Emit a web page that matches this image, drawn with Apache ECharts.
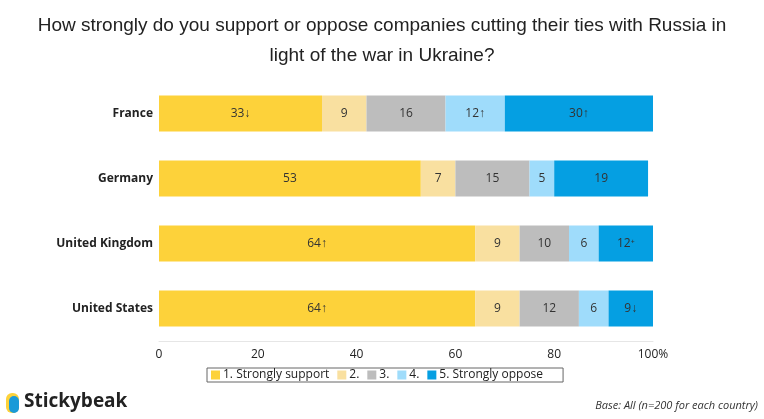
<!DOCTYPE html>
<html>
<head>
<meta charset="utf-8">
<script src="https://cdn.jsdelivr.net/npm/echarts@6/dist/echarts.min.js"></script>
<style>html,body{margin:0;padding:0;background:#fff}#main{width:764px;height:419px}</style>
</head>
<body>
<div id="main"></div>
<script>
// categories, top to bottom
var countries = ['France', 'Germany', 'United Kingdom', 'United States'];
var seriesNames = ['1. Strongly support', '2.', '3.', '4.', '5. Strongly oppose'];
var colors = ['#fdd23a', '#f9e0a0', '#bdbdbd', '#9fdcfb', '#059fe2'];
// values per answer, one per country
var support1 = [33, 53, 64, 64];
var support2 = [9, 7, 9, 9];
var neutral3 = [16, 15, 10, 12];
var oppose4 = [12, 5, 6, 6];
var oppose5 = [30, 19, 12, 9];
// label text (with significance marks)
var labels1 = ['33↓', '53', '64↑', '64↑'];
var labels2 = ['9', '7', '9', '9'];
var labels3 = ['16', '15', '10', '12'];
var labels4 = ['12↑', '5', '6', '6'];
var labels5 = ['30↑', '19', '12⁺', '9↓'];

var values = [support1, support2, neutral3, oppose4, oppose5];
var labelSets = [labels1, labels2, labels3, labels4, labels5];

var myChart = echarts.init(document.getElementById('main'));
var series = seriesNames.map(function (name, i) {
    return {
        name: name,
        type: 'bar',
        stack: 'total',
        barWidth: 36,
        itemStyle: { color: colors[i] },
        label: {
            show: true,
            color: '#333',
            fontSize: 12,
            fontFamily: 'Open Sans',
            formatter: function (p) { return labelSets[i][p.dataIndex]; }
        },
        data: values[i]
    };
});

var option = {
    animation: false,
    title: {
        text: 'How strongly do you support or oppose companies cutting their ties with Russia in\nlight of the war in Ukraine?',
        left: 'center',
        top: 6,
        textStyle: { fontFamily: 'Liberation Sans', fontWeight: 'normal', fontSize: 19, color: '#222', lineHeight: 30, align: 'center' }
    },
    legend: {
        data: seriesNames,
        bottom: 37,
        left: 207,
        itemWidth: 9,
        itemHeight: 9,
        itemGap: 8,
        padding: [1, 20, 1, 4],
        borderColor: '#666',
        borderWidth: 1,
        icon: 'rect',
        textStyle: { fontFamily: 'Open Sans', fontSize: 12, color: '#222', padding: [0, 0, 0, -2] }
    },
    grid: { left: 159, right: 111, top: 81, height: 260 },
    xAxis: {
        type: 'value',
        min: 0,
        max: 100,
        interval: 20,
        splitLine: { show: false },
        axisLine: { show: true, lineStyle: { color: '#e6e6e6' } },
        axisTick: { show: false },
        axisLabel: {
            fontFamily: 'Open Sans', fontSize: 12, color: '#222', margin: 8,
            formatter: function (v) { return v === 100 ? '100%' : String(v); }
        }
    },
    yAxis: {
        type: 'category',
        data: countries,
        inverse: true,
        axisLine: { show: false },
        axisTick: { show: false },
        axisLabel: { fontFamily: 'Open Sans', fontWeight: 'bold', fontSize: 12, color: '#222', margin: 6 }
    },
    series: series,
    graphic: [
        { type: 'rect', shape: { x: 6, y: 393, width: 13, height: 20, r: 6 }, style: { fill: '#fdd23a' } },
        { type: 'rect', shape: { x: 9, y: 396, width: 10, height: 17, r: 5 }, style: { fill: '#1a9ad8' } },
        { type: 'text', left: 24, top: 392, style: { text: 'Stickybeak', font: 'bold 19px "Open Sans"', fill: '#222' } },
        { type: 'text', right: 6, top: 400, style: { text: 'Base: All (n=200 for each country)', font: 'italic 11px "Open Sans"', fill: '#333' } }
    ]
};
myChart.setOption(option);
</script>
</body>
</html>
